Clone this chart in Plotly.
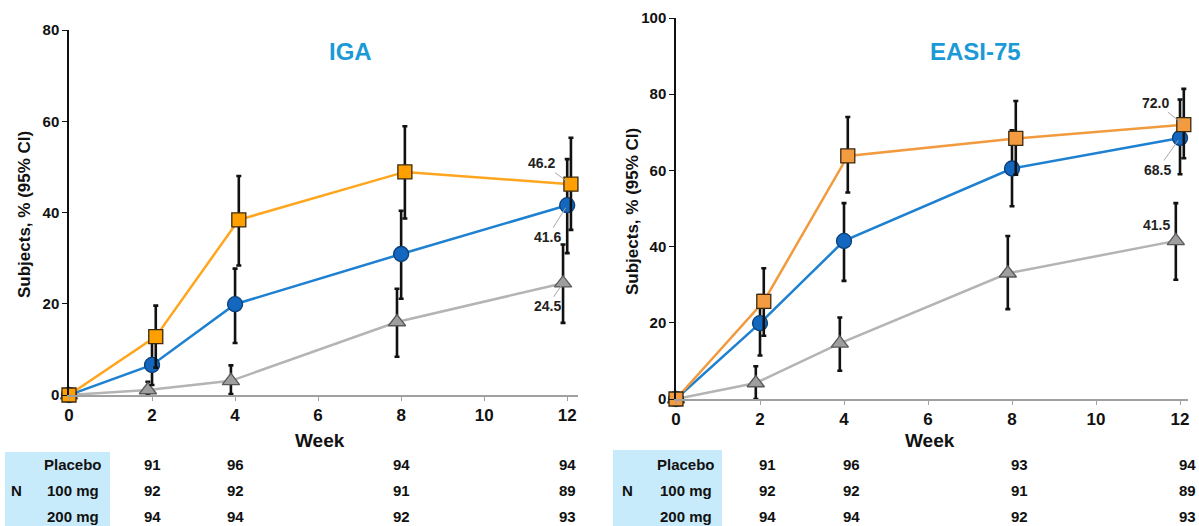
import plotly.graph_objects as go

# ---------------- data ----------------
weeks = [0, 2, 4, 8, 12]
series_names = ["Placebo", "100 mg", "200 mg"]

# IGA
iga_placebo = [0, 1.1, 3.1, 16.0, 24.5]
iga_placebo_lo = [0, 0.0, 0.2, 8.4, 15.8]
iga_placebo_hi = [0, 2.9, 6.5, 23.3, 33.0]
iga_100 = [0, 6.6, 19.9, 30.9, 41.6]
iga_100_lo = [0, 2.2, 11.4, 21.1, 31.1]
iga_100_hi = [0, 11.5, 27.7, 40.4, 51.7]
iga_200 = [0, 12.8, 38.4, 48.9, 46.2]
iga_200_lo = [0, 6.0, 28.4, 38.7, 36.2]
iga_200_hi = [0, 19.6, 48.0, 58.9, 56.4]

# EASI-75
easi_placebo = [0, 4.2, 14.6, 33.0, 41.5]
easi_placebo_lo = [0, 0.0, 7.4, 23.6, 31.3]
easi_placebo_hi = [0, 8.6, 21.4, 42.8, 51.4]
easi_100 = [0, 19.9, 41.5, 60.5, 68.5]
easi_100_lo = [0, 11.4, 31.0, 50.6, 59.0]
easi_100_hi = [0, 27.3, 51.4, 70.5, 78.6]
easi_200 = [0, 25.6, 63.8, 68.4, 72.0]
easi_200_lo = [0, 16.6, 54.2, 58.9, 63.2]
easi_200_hi = [0, 34.3, 74.0, 78.2, 81.4]

# N table
table_weeks = [2, 4, 8, 12]
iga_n_placebo = [91, 96, 94, 94]
iga_n_100 = [92, 92, 91, 89]
iga_n_200 = [94, 94, 92, 93]
easi_n_placebo = [91, 96, 93, 94]
easi_n_100 = [92, 92, 91, 89]
easi_n_200 = [94, 94, 92, 93]

# ---------------- style ----------------
SANS = "Liberation Sans, Arial, sans-serif"
TITLE_BLUE = "#1B9AD6"
X_OFFSETS = {"Placebo": -0.1, "100 mg": 0.0, "200 mg": 0.09}

fig = go.Figure()


def add_series(xa, ya, y, lo, hi, name, line_color, marker_color, marker_line, symbol, size):
    off = X_OFFSETS[name]
    xs = [w + off if w > 0 else w for w in weeks]
    plus = [h - v for h, v in zip(hi, y)]
    minus = [v - l for v, l in zip(y, lo)]
    fig.add_trace(go.Scatter(
        x=xs, y=y, mode="lines+markers", name=name, showlegend=False,
        xaxis=xa, yaxis=ya, cliponaxis=False,
        line=dict(color=line_color, width=2.5),
        marker=dict(symbol=symbol, size=size, color=marker_color,
                    line=dict(color=marker_line, width=1.3)),
        error_y=dict(type="data", array=plus, arrayminus=minus, visible=True,
                     color="#111111", thickness=2.6, width=2.5),
    ))


# IGA panel
add_series("x", "y", iga_placebo, iga_placebo_lo, iga_placebo_hi, "Placebo",
           "#B4B4B4", "#9E9E9E", "#5A5A5A", "triangle-up", 15)
add_series("x", "y", iga_100, iga_100_lo, iga_100_hi, "100 mg",
           "#1E80D0", "#1467BE", "#0B3F78", "circle", 15)
add_series("x", "y", iga_200, iga_200_lo, iga_200_hi, "200 mg",
           "#FFA51E", "#FFA000", "#3A2A10", "square", 14)

# EASI panel
add_series("x2", "y2", easi_placebo, easi_placebo_lo, easi_placebo_hi, "Placebo",
           "#B4B4B4", "#9E9E9E", "#5A5A5A", "triangle-up", 15)
add_series("x2", "y2", easi_100, easi_100_lo, easi_100_hi, "100 mg",
           "#1E80D0", "#1467BE", "#0B3F78", "circle", 15)
add_series("x2", "y2", easi_200, easi_200_lo, easi_200_hi, "200 mg",
           "#F29A3E", "#F39B40", "#3A2A10", "square", 14)

W, H = 1199, 526


def px_x(p):
    return p / W


def px_y(p):
    return 1 - p / H


xaxis_common = dict(
    tickmode="array", tickvals=[0, 2, 4, 6, 8, 10, 12],
    showline=True, linecolor="#A0A0A0", linewidth=1.5,
    ticks="outside", ticklen=4, tickcolor="#A0A0A0",
    tickfont=dict(family=SANS, size=17, color="#111111", weight="bold"),
    showgrid=False, zeroline=False, fixedrange=True, automargin=False,
)
yaxis_common = dict(
    showline=True, linecolor="#111111", linewidth=1.5,
    ticks="outside", ticklen=5, tickcolor="#111111",
    tickfont=dict(family=SANS, size=15, color="#111111", weight="bold"),
    showgrid=False, zeroline=False, fixedrange=True, automargin=False,
)

fig.update_layout(
    width=W, height=H,
    margin=dict(l=0, r=0, t=0, b=0, autoexpand=False),
    paper_bgcolor="white", plot_bgcolor="white",
    xaxis=dict(xaxis_common, domain=[px_x(69), px_x(578)], range=[0, 12.26], anchor="y"),
    yaxis=dict(yaxis_common, domain=[px_y(395), px_y(30)], range=[0, 80],
               tickvals=[0, 20, 40, 60, 80], anchor="x"),
    xaxis2=dict(xaxis_common, domain=[px_x(676), px_x(1188)], range=[0, 12.19], anchor="y2"),
    yaxis2=dict(yaxis_common, domain=[px_y(399), px_y(18)], range=[0, 100],
                tickvals=[0, 20, 40, 60, 80, 100], anchor="x2"),
)

ann = []


def paper_text(text, xp, yp, font, **kw):
    ann.append(dict(text=text, x=px_x(xp), y=px_y(yp), xref="paper", yref="paper",
                    xanchor="center", yanchor="middle", showarrow=False, font=font, **kw))


# titles
paper_text("<b>IGA</b>", 350, 52, dict(family=SANS, size=24, color=TITLE_BLUE))
paper_text("<b>EASI-75</b>", 975, 52, dict(family=SANS, size=24, color=TITLE_BLUE))
# y titles
for xp, yp in [(24, 215), (632, 212)]:
    paper_text("<b>Subjects, % (95% CI)</b>", xp, yp,
               dict(family=SANS, size=17, color="#111111"), textangle=-90)
# Week labels
for xp in [320, 930]:
    paper_text("<b>Week</b>", xp, 440, dict(family=SANS, size=19, color="#111111"))

# value labels
lab_font = dict(family=SANS, size=14, color="#222222", weight="bold")
leader = dict(showarrow=True, arrowhead=0, arrowwidth=1, arrowcolor="#A8A8A8", standoff=3)
ann.append(dict(text="46.2", x=12 + X_OFFSETS["200 mg"], y=iga_200[-1], xref="x", yref="y",
                ax=-29, ay=-21, font=lab_font, **leader))
ann.append(dict(text="41.6", x=12 + X_OFFSETS["100 mg"], y=iga_100[-1], xref="x", yref="y",
                ax=-20, ay=32, font=lab_font, **leader))
ann.append(dict(text="24.5", x=12 + X_OFFSETS["Placebo"], y=iga_placebo[-1], xref="x", yref="y",
                ax=-16, ay=23, font=lab_font, **leader))
ann.append(dict(text="72.0", x=12 + X_OFFSETS["200 mg"], y=easi_200[-1], xref="x2", yref="y2",
                ax=-28, ay=-22, font=lab_font, **leader))
ann.append(dict(text="68.5", x=12 + X_OFFSETS["100 mg"], y=easi_100[-1], xref="x2", yref="y2",
                ax=-23, ay=32, font=lab_font, **leader))
ann.append(dict(text="41.5", x=12 + X_OFFSETS["Placebo"], y=easi_placebo[-1], xref="x2", yref="y2",
                showarrow=False, xshift=-19, yshift=16, font=lab_font))

# N tables
shapes = []
tables = [
    ("x", (5, 110), 73, 16, 0, [iga_n_placebo, iga_n_100, iga_n_200], (452, 526)),
    ("x2", (613, 722), 686, 627, 7, [easi_n_placebo, easi_n_100, easi_n_200], (450, 526)),
]
row_y = [464, 490, 516]
tfont = dict(family=SANS, size=15, color="#111111", weight="bold")
for xref, (bx0, bx1), lab_x, n_x, shift, rows, (by0, by1) in tables:
    shapes.append(dict(type="rect", xref="paper", yref="paper",
                       x0=px_x(bx0), x1=px_x(bx1), y0=px_y(by1), y1=px_y(by0),
                       fillcolor="#C8EBFB", line=dict(width=0), layer="below"))
    paper_text("N", n_x, row_y[1], tfont)
    for name, vals, ry in zip(series_names, rows, row_y):
        paper_text(name, lab_x, ry, tfont)
        for wk, v in zip(table_weeks, vals):
            ann.append(dict(text=str(v), x=wk, y=px_y(ry), xref=xref, yref="paper",
                            xanchor="center", yanchor="middle",
                            xshift=shift, showarrow=False, font=tfont))

fig.update_layout(annotations=ann, shapes=shapes)
fig.write_html("out.html")
